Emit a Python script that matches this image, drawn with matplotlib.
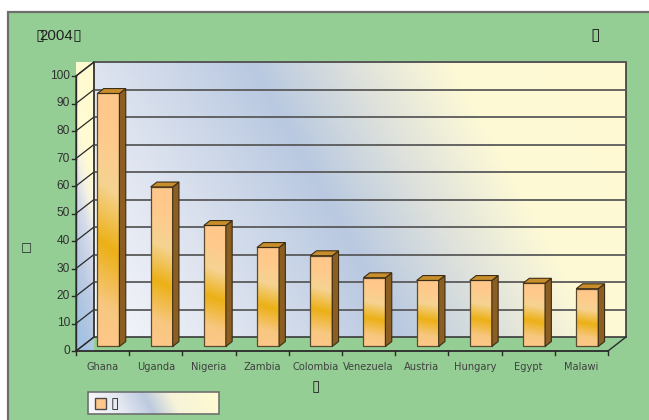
import matplotlib.pyplot as plt
import numpy as np
from matplotlib.patches import Polygon, Rectangle
from matplotlib.colors import LinearSegmentedColormap

countries = ["Ghana", "Uganda", "Nigeria", "Zambia", "Colombia",
             "Venezuela", "Austria", "Hungary", "Egypt", "Malawi"]
values = [92, 58, 44, 36, 33, 25, 24, 24, 23, 21]
y_ticks = list(range(0, 101, 10))
title_text = "2004"
box = "\u25af"

green = "#94ce94"
W, H = 649, 420

fig = plt.figure(figsize=(W / 100, H / 100), dpi=100)
fig.patch.set_facecolor("white")

# background axes in pixel coordinates
bg = fig.add_axes([0, 0, 1, 1], zorder=0)
bg.set_xlim(0, W)
bg.set_ylim(H, 0)
bg.axis("off")
bg.add_patch(Rectangle((8, 12), 660, 430, fc=green, ec="#6e6e6e", lw=1.6))

# front plane of the 3d box: x 76..608 px, y 351..76 px
x_left, x_right, y_bot, y_top = 76, 608, 351, 76
ax = fig.add_axes([x_left / W, (H - y_bot) / H, (x_right - x_left) / W,
                   (y_bot - y_top) / H], zorder=1)
ax.patch.set_alpha(0)
ax.axis("off")
n = len(countries)
ax.set_xlim(0, n)
ax.set_ylim(0, 100)

px_x = (x_right - x_left) / n       # px per category
px_y = (y_bot - y_top) / 100        # px per unit
DX = 18 / px_x                      # depth offset in data units
DY = 14 / px_y

# back wall gradient
wall_cmap = LinearSegmentedColormap.from_list("wall", [
    (0.0, "#f6f7fb"), (0.22, "#dde3ef"), (0.45, "#b9c9e1"),
    (0.6, "#dfe2dc"), (0.74, "#fdf9d6"), (1.0, "#fffad2")])
gx, gy = np.meshgrid(np.linspace(94, 626, 300), np.linspace(62, 337, 200))
t = (gx * 275 - gy * 150 + 24425) / 187275
ax.imshow(t, cmap=wall_cmap, vmin=0, vmax=1, aspect="auto", origin="upper",
          extent=(DX, n + DX, DY, 100 + DY), zorder=0, clip_on=False,
          interpolation="bilinear")
ax.add_patch(Rectangle((DX, DY), n, 100, fill=False, ec="#3a3a3a", lw=1.2,
                       zorder=2, clip_on=False))

# side wall gradient
side_cmap = LinearSegmentedColormap.from_list("side", [
    (0.0, "#a4c2e2"), (0.25, "#bccbe2"), (0.45, "#d6dcea"),
    (0.58, "#f4f2e2"), (0.7, "#fffbd4"), (1.0, "#fffbd0")])
sx, sy = np.meshgrid(np.linspace(0, 1, 40), np.linspace(1, 0, 200))
ax_side = ax.imshow(sy + 0.25 * sx - 0.12, cmap=side_cmap, vmin=0, vmax=1,
                    aspect="auto", origin="upper",
                    extent=(0, DX, 0, 100 + DY), zorder=1, clip_on=False,
                    interpolation="bilinear")
side_poly = Polygon([(0, 0), (0, 100), (DX, 100 + DY), (DX, DY)],
                    closed=True, fill=False, ec="#3a3a3a", lw=1.0, zorder=2,
                    clip_on=False)
ax.add_patch(side_poly)
ax_side.set_clip_path(side_poly)

# gridlines on walls
for v in y_ticks[1:]:
    ax.plot([DX, n + DX], [v + DY, v + DY], color="#5a5a5a", lw=1.3,
            zorder=2, clip_on=False)
for v in y_ticks:
    ax.plot([0, DX], [v, v + DY], color="#2a2a2a", lw=0.9, zorder=2,
            clip_on=False)
    ax.plot([-4 / px_x, 0], [v, v], color="#2a2a2a", lw=1.0, zorder=2,
            clip_on=False)
    ax.text(-6 / px_x, v, str(v), ha="right", va="center", fontsize=8.6,
            family="Liberation Sans", color="#303030", clip_on=False)

# floor edges and x axis
ax.plot([0, n], [0, 0], color="#2a2a2a", lw=1.3, zorder=2, clip_on=False)
ax.plot([0, 0], [0, 100], color="#2a2a2a", lw=1.0, zorder=2, clip_on=False)
ax.plot([n, n + DX], [0, DY], color="#2a2a2a", lw=1.0, zorder=2,
        clip_on=False)
for i in range(n + 1):
    ax.plot([i, i], [0, -4 / px_y], color="#2a2a2a", lw=1.0, zorder=2,
            clip_on=False)
for i, c in enumerate(countries):
    ax.text(i + 0.5, -19 / px_y, c, ha="center", va="baseline", fontsize=7.1,
            family="DejaVu Sans", color="#404040", clip_on=False)

# bars
bar_cmap = LinearSegmentedColormap.from_list("bar", [
    (0.0, "#ffc78a"), (0.18, "#f7c77f"), (0.42, "#ecb016"),
    (0.66, "#f5d392"), (0.86, "#ffca8c"), (1.0, "#ffc88a")])
w = 0.414
f0, f1 = 0.325, 0.675
ddx, ddy = (f1 - f0) * DX, (f1 - f0) * DY
for i, v in enumerate(values):
    x0 = i + 0.5 - w / 2 + f0 * DX
    x1 = x0 + w
    yb = f0 * DY
    yt = v + yb
    bx, by = np.meshgrid(np.linspace(0, 1, 20), np.linspace(1, 0, 120))
    ax.imshow(by + 0.06 * bx, cmap=bar_cmap, vmin=0, vmax=1, aspect="auto",
              origin="upper", extent=(x0, x1, yb, yt), zorder=3,
              clip_on=False, interpolation="bilinear")
    ax.add_patch(Rectangle((x0, yb), w, v, fill=False, ec="#5a4a30", lw=0.9,
                           zorder=4, clip_on=False))
    ax.add_patch(Polygon([(x1, yb), (x1, yt), (x1 + ddx, yt + ddy),
                          (x1 + ddx, yb + ddy)], closed=True, fc="#8c5e22",
                         ec="#3b2d16", lw=0.8, zorder=4, clip_on=False))
    ax.add_patch(Polygon([(x0, yt), (x1, yt), (x1 + ddx, yt + ddy),
                          (x0 + ddx, yt + ddy)], closed=True, fc="#c98e2c",
                         ec="#3b2d16", lw=0.8, zorder=4, clip_on=False))

# texts
bg.text(39, 39.5, title_text, fontsize=10.8, family="Liberation Sans",
        color="#222222", va="baseline")
bg.text(73, 39.5, box, fontsize=11.5, family="DejaVu Sans", color="#222222",
        va="baseline")
bg.text(36, 39.5, box, fontsize=11.5, family="DejaVu Sans", color="#222222",
        va="baseline")
bg.text(595, 39.5, box, fontsize=12.5, family="DejaVu Sans", color="#222222",
        va="baseline", ha="center")
bg.text(26, 248, "\u25a1", fontsize=8.5, family="DejaVu Sans", color="#222222",
        va="center", ha="center")
bg.text(316, 387, box, fontsize=11, family="DejaVu Sans", color="#222222",
        va="center", ha="center")

# legend
leg_cmap = LinearSegmentedColormap.from_list("leg", [
    (0.0, "#f6f6fa"), (0.2, "#e4e8f1"), (0.42, "#bccae0"),
    (0.62, "#f6f3da"), (1.0, "#fffbd0")])
lx, ly = np.meshgrid(np.linspace(0, 1, 200), np.linspace(0, 1, 20))
bg.imshow(lx - 0.08 * ly, cmap=leg_cmap, vmin=0, vmax=1, aspect="auto",
          origin="upper", extent=(88, 219, 414, 392), zorder=2,
          interpolation="bilinear")
bg.add_patch(Rectangle((88, 392), 131, 22, fill=False, ec="#707070", lw=1.2,
                       zorder=3))
bg.add_patch(Rectangle((95, 398), 11, 11, fc="#ffc88a", ec="#4a4a4a", lw=1.0,
                       zorder=3))
bg.text(111, 403.5, box, fontsize=11, family="DejaVu Sans", color="#222222",
        va="center", ha="left", zorder=4)
bg.set_xlim(0, W)
bg.set_ylim(H, 0)

fig.savefig("out.png", dpi=100)
